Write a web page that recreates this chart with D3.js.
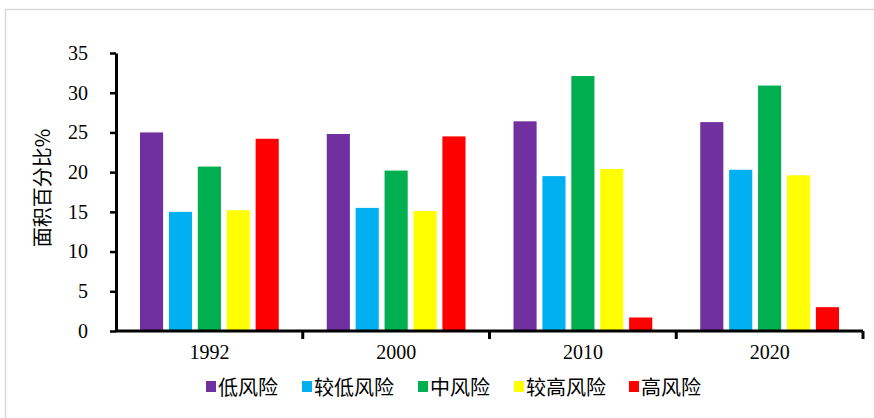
<!DOCTYPE html>
<html>
<head>
<meta charset="utf-8">
<script src="https://cdn.jsdelivr.net/npm/d3@7"></script>
<style>
  html, body { margin: 0; padding: 0; background: #fff; }
  svg { display: block; }
</style>
</head>
<body>
<svg id="chart" width="874" height="418"></svg>
<script>
// Years on the category axis
const years = ["1992", "2000", "2010", "2020"];
// Risk classes (legend order)
const series = ["低风险", "较低风险", "中风险", "较高风险", "高风险"];
const colors = ["#7030A0", "#00B0F0", "#00B050", "#FFFF00", "#FF0000"];
// Area share (%) per risk class, one value per year
const lowRisk        = [25.0, 24.8, 26.4, 26.3];
const lowerRisk      = [15.0, 15.5, 19.5, 20.3];
const midRisk        = [20.7, 20.2, 32.1, 30.9];
const higherRisk     = [15.2, 15.1, 20.4, 19.6];
const highRisk       = [24.2, 24.5, 1.7, 3.0];
const yTicks = [0, 5, 10, 15, 20, 25, 30, 35];

const seriesValues = [lowRisk, lowerRisk, midRisk, higherRisk, highRisk];
const rows = [];
years.forEach((yr, i) => series.forEach((s, j) => rows.push({year: yr, key: s, value: seriesValues[j][i], color: colors[j]})));

const svg = d3.select("#chart");
const numFont = "'Liberation Serif', 'Times New Roman', serif";
const cjkFont = "'Noto Sans CJK SC', sans-serif";

// outer frame
svg.append("rect").attr("x", 5.5).attr("y", 9.5).attr("width", 900).attr("height", 430)
  .attr("fill", "none").attr("stroke", "#d9d9d9").attr("stroke-width", 1.5);

const x0 = d3.scaleBand().domain(years).range([116, 863]).paddingInner(0).paddingOuter(0);
const x1 = d3.scaleBand().domain(series).range([0, x0.bandwidth()]).paddingInner(0.2).paddingOuter(0.83);
const y = d3.scaleLinear().domain([0, 35]).range([331, 53]);

// bars
svg.append("g").selectAll("rect").data(rows).join("rect")
  .attr("x", d => x0(d.year) + x1(d.key))
  .attr("y", d => y(d.value))
  .attr("width", x1.bandwidth())
  .attr("height", d => y(0) - y(d.value))
  .attr("fill", d => d.color);

// y axis
const yAxis = svg.append("g").attr("transform", "translate(116,0)")
  .call(d3.axisLeft(y).tickValues(yTicks).tickSize(6).tickSizeOuter(0).tickPadding(22));
yAxis.select(".domain").attr("stroke", "#000").attr("stroke-width", 3);
yAxis.selectAll(".tick line").attr("stroke", "#000").attr("stroke-width", 2.5);
yAxis.selectAll(".tick text").attr("font-family", numFont).attr("font-size", 20).attr("fill", "#000");

// x axis
const xAxis = svg.append("g").attr("transform", "translate(0,331)")
  .call(d3.axisBottom(x0).tickSize(0).tickPadding(14));
xAxis.select(".domain").attr("stroke", "#000").attr("stroke-width", 3).attr("d", "M116,0H863");
xAxis.selectAll(".tick text").attr("font-family", numFont).attr("font-size", 20).attr("fill", "#000");
// category separators
svg.append("g").selectAll("line").data(years.slice(1).concat(["end"])).join("line")
  .attr("x1", d => d === "end" ? 863 : x0(d)).attr("x2", d => d === "end" ? 863 : x0(d))
  .attr("y1", 331).attr("y2", 339).attr("stroke", "#000").attr("stroke-width", 3);

// y title
svg.append("text").attr("transform", "translate(50,188) rotate(-90)")
  .attr("text-anchor", "middle").attr("font-family", cjkFont).attr("font-size", 20).attr("fill", "#000")
  .text("面积百分比%");

// legend
const legendX = [206, 302, 418, 514, 629];
const lg = svg.append("g").selectAll("g").data(series).join("g")
  .attr("transform", (d, i) => `translate(${legendX[i]},0)`);
lg.append("rect").attr("x", 0).attr("y", 381).attr("width", 10).attr("height", 11).attr("fill", (d, i) => colors[i]);
lg.append("text").attr("x", 12).attr("y", 395).attr("font-family", cjkFont).attr("font-size", 20).attr("fill", "#000").text(d => d);
</script>
</body>
</html>
